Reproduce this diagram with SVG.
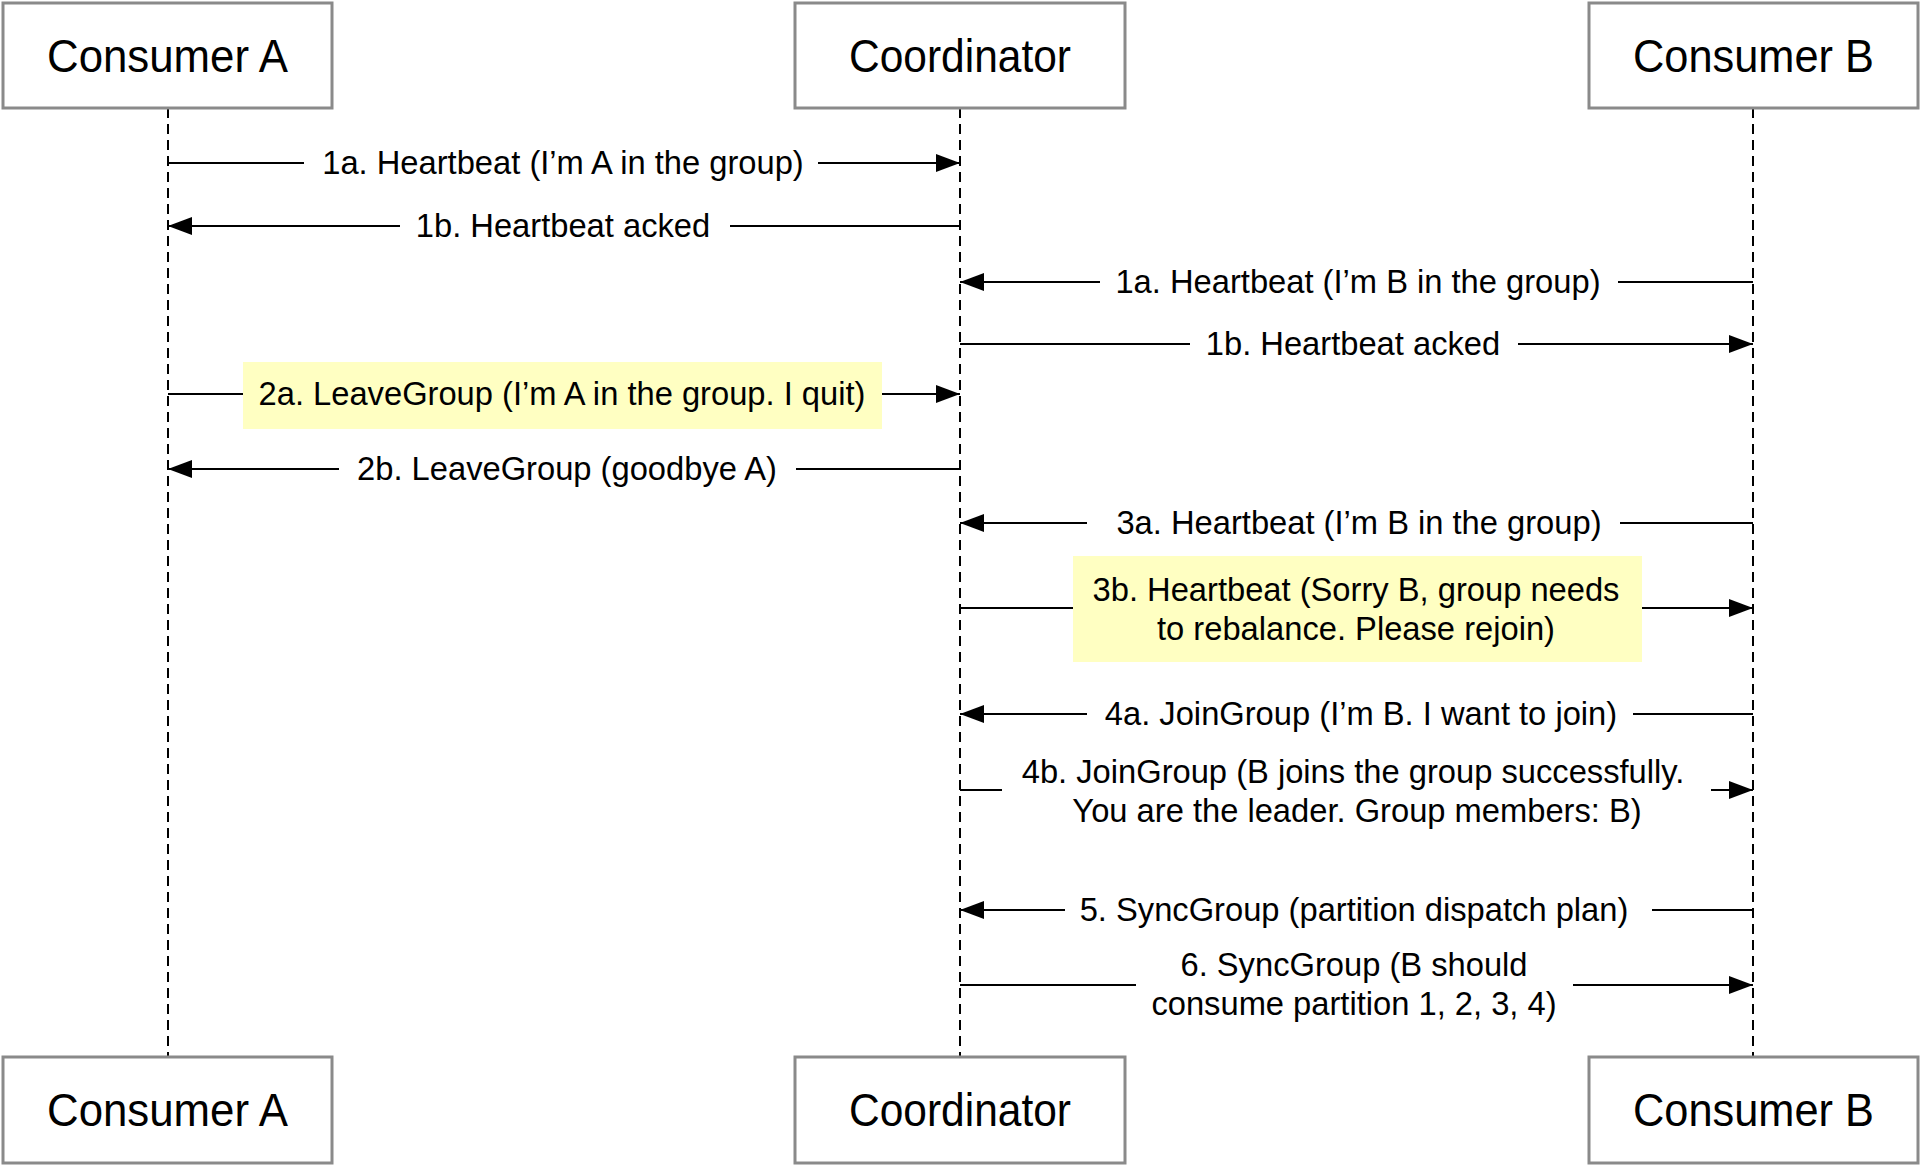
<svg xmlns="http://www.w3.org/2000/svg" width="1920" height="1168" viewBox="0 0 1920 1168">
<style>
.box{fill:#fff;stroke:#8a8a8a;stroke-width:3}
.title{font-family:"Liberation Sans",Arial,sans-serif;font-size:46px;fill:#000;text-anchor:middle}
.life{stroke:#000;stroke-width:2;stroke-dasharray:10 6;fill:none}
.msg{stroke:#000;stroke-width:2;fill:none;marker-end:url(#arr)}
.lbl{font-family:"Liberation Sans",Arial,sans-serif;font-size:32.7px;fill:#000;text-anchor:middle}
.bg{fill:#fff}
.hl{fill:#ffffc2}
</style>
<defs>
<marker id="arr" viewBox="0 0 24 18" refX="24" refY="9" markerWidth="24" markerHeight="18" markerUnits="userSpaceOnUse" orient="auto">
<path d="M0,0 L24,9 L0,18 z" fill="#000"/>
</marker>
</defs>
<rect width="1920" height="1168" fill="#fff"/>
<g id="lifelines">
<line class="life" x1="168" y1="108" x2="168" y2="1057"/>
<line class="life" x1="960" y1="108" x2="960" y2="1057"/>
<line class="life" x1="1753" y1="108" x2="1753" y2="1057"/>
</g>
<g id="connectors">
<line class="msg" x1="168" y1="163" x2="960" y2="163"/>
<line class="msg" x1="960" y1="226" x2="168" y2="226"/>
<line class="msg" x1="1753" y1="282" x2="960" y2="282"/>
<line class="msg" x1="960" y1="344" x2="1753" y2="344"/>
<line class="msg" x1="168" y1="394" x2="960" y2="394"/>
<line class="msg" x1="960" y1="469" x2="168" y2="469"/>
<line class="msg" x1="1753" y1="523" x2="960" y2="523"/>
<line class="msg" x1="960" y1="608" x2="1753" y2="608"/>
<line class="msg" x1="1753" y1="714" x2="960" y2="714"/>
<line class="msg" x1="960" y1="790" x2="1753" y2="790"/>
<line class="msg" x1="1753" y1="910" x2="960" y2="910"/>
<line class="msg" x1="960" y1="985" x2="1753" y2="985"/>
</g>
<g id="labels">
<g id="m1"><rect class="bg" x="304" y="143" width="514" height="40"/><text class="lbl" x="563" y="174">1a. Heartbeat (I’m A in the group)</text></g>
<g id="m2"><rect class="bg" x="400" y="206" width="330" height="40"/><text class="lbl" x="563" y="237">1b. Heartbeat acked</text></g>
<g id="m3"><rect class="bg" x="1100" y="262" width="518" height="40"/><text class="lbl" x="1358" y="293">1a. Heartbeat (I’m B in the group)</text></g>
<g id="m4"><rect class="bg" x="1190" y="324" width="328" height="40"/><text class="lbl" x="1353" y="355">1b. Heartbeat acked</text></g>
<g id="m5"><rect class="hl" x="243" y="362" width="639" height="67"/><text class="lbl" x="562" y="405">2a. LeaveGroup (I’m A in the group. I quit)</text></g>
<g id="m6"><rect class="bg" x="339" y="449" width="457" height="40"/><text class="lbl" x="567" y="480">2b. LeaveGroup (goodbye A)</text></g>
<g id="m7"><rect class="bg" x="1087" y="503" width="533" height="40"/><text class="lbl" x="1359" y="534">3a. Heartbeat (I’m B in the group)</text></g>
<g id="m8"><rect class="hl" x="1073" y="556" width="569" height="106"/><text class="lbl" x="1356" y="601">3b. Heartbeat (Sorry B, group needs</text><text class="lbl" x="1356" y="640">to rebalance. Please rejoin)</text></g>
<g id="m9"><rect class="bg" x="1087" y="694" width="546" height="40"/><text class="lbl" x="1361" y="725">4a. JoinGroup (I’m B. I want to join)</text></g>
<g id="m10"><rect class="bg" x="1002" y="752" width="709" height="80"/><text class="lbl" x="1353" y="783">4b. JoinGroup (B joins the group successfully.</text><text class="lbl" x="1357" y="822">You are the leader. Group members: B)</text></g>
<g id="m11"><rect class="bg" x="1065" y="890" width="587" height="40"/><text class="lbl" x="1354" y="921">5. SyncGroup (partition dispatch plan)</text></g>
<g id="m12"><rect class="bg" x="1136" y="950" width="437" height="76"/><text class="lbl" x="1354" y="976">6. SyncGroup (B should</text><text class="lbl" x="1354" y="1015">consume partition 1, 2, 3, 4)</text></g>
</g>
<g id="consumerA-top"><rect class="box" x="3" y="3" width="329" height="105"/><text class="title" x="167.5" y="72" textLength="241" lengthAdjust="spacingAndGlyphs">Consumer A</text></g>
<g id="coordinator-top"><rect class="box" x="795" y="3" width="330" height="105"/><text class="title" x="960" y="72" textLength="222" lengthAdjust="spacingAndGlyphs">Coordinator</text></g>
<g id="consumerB-top"><rect class="box" x="1589" y="3" width="329" height="105"/><text class="title" x="1753.5" y="72" textLength="241" lengthAdjust="spacingAndGlyphs">Consumer B</text></g>
<g id="consumerA-bottom"><rect class="box" x="3" y="1057" width="329" height="106"/><text class="title" x="167.5" y="1126" textLength="241" lengthAdjust="spacingAndGlyphs">Consumer A</text></g>
<g id="coordinator-bottom"><rect class="box" x="795" y="1057" width="330" height="106"/><text class="title" x="960" y="1126" textLength="222" lengthAdjust="spacingAndGlyphs">Coordinator</text></g>
<g id="consumerB-bottom"><rect class="box" x="1589" y="1057" width="329" height="106"/><text class="title" x="1753.5" y="1126" textLength="241" lengthAdjust="spacingAndGlyphs">Consumer B</text></g>
</svg>
